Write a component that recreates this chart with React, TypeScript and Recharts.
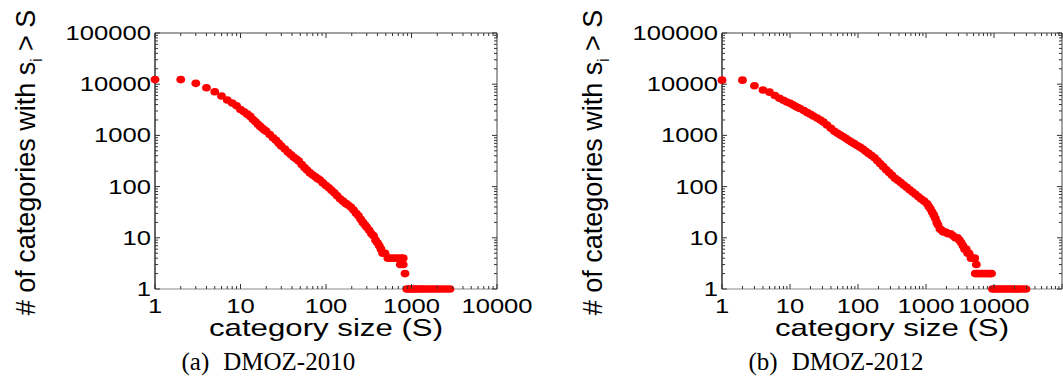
import React from 'react';
import { ScatterChart, Scatter, XAxis, YAxis, Label } from 'recharts';

const FONT = '"Liberation Sans", Arial, Helvetica, sans-serif';
const SERIF = '"Liberation Serif", "Times New Roman", serif';

// ---- DMOZ-2010: category size S and number of categories with s_i > S ----
const sizes2010 = [
  1, 2, 3, 4, 5, 6, 7, 8, 9, 10,
  11, 12, 13, 14, 15, 16, 17, 18, 19, 20,
  22, 24, 26, 28, 30, 33, 36, 39, 42, 45,
  48, 52, 56, 60, 65, 70, 75, 80, 85, 92,
  100, 108, 116, 125, 135, 146, 158, 170, 180, 195,
  210, 225, 240, 255, 270, 285, 300, 320, 340, 360,
  380, 400, 420, 440, 460, 490, 530, 570, 610, 660,
  710, 760, 800, 740, 800, 840, 880, 930, 980, 1040,
  1100, 1170, 1250, 1340, 1440, 1550, 1680, 1820, 1980, 2150,
  2350, 2580, 2820,
];
const counts2010 = [
  12300, 12300, 10400, 8500, 7100, 5900, 4900, 4300, 3800, 3200,
  2900, 2600, 2350, 2050, 1850, 1650, 1500, 1380, 1280, 1200,
  1040, 900, 800, 700, 620, 540, 470, 420, 375, 345,
  315, 270, 235, 210, 185, 168, 155, 143, 135, 118,
  105, 95, 85, 76, 66, 58, 52, 47, 44, 40,
  35, 30, 27, 23, 20, 18, 16, 14, 12, 11,
  9, 8, 7, 6, 5, 5, 4, 4, 4, 4,
  4, 4, 4, 3, 3, 2, 1, 1, 1, 1,
  1, 1, 1, 1, 1, 1, 1, 1, 1, 1,
  1, 1, 1,
];

// ---- DMOZ-2012 ----
const sizes2012 = [
  1, 2, 3, 4, 5, 6, 7, 8, 9, 10,
  11, 12, 13, 14, 16, 18, 20, 22, 25, 28,
  31, 35, 40, 45, 50, 55, 60, 66, 73, 80,
  88, 97, 107, 118, 130, 143, 158, 175, 193, 213,
  235, 260, 287, 316, 350, 385, 425, 470, 520, 575,
  635, 700, 775, 850, 940, 1040, 1100, 1160, 1230, 1300,
  1370, 1440, 1500, 1600, 1700, 1800, 1950, 2100, 2300, 2500,
  2700, 2900, 3100, 3300, 3500, 3700, 3900, 4100, 4300, 4600,
  4900, 5200, 5500, 5300, 5700, 6100, 6600, 7100, 7600, 8200,
  8700, 9200, 9500, 10200, 11000, 12000, 13000, 14200, 15500, 17000,
  18500, 20000, 22000, 24000, 26500, 29500,
];
const counts2012 = [
  12000, 12000, 9300, 7700, 7000, 6000, 5300, 4850, 4500, 4250,
  3950, 3700, 3500, 3350, 3050, 2780, 2580, 2400, 2180, 2000,
  1820, 1600, 1380, 1200, 1100, 1020, 950, 875, 800, 745,
  690, 637, 589, 540, 490, 445, 403, 364, 320, 280,
  245, 214, 188, 166, 146, 133, 120, 107, 97, 87,
  78, 71, 63, 57, 52, 46, 41, 37, 32, 28,
  24, 20, 18, 15, 14, 13, 13, 12, 12, 11,
  10, 10, 9, 8, 7, 6, 6, 5, 5, 4,
  4, 4, 3, 2, 2, 2, 2, 2, 2, 2,
  2, 2, 1, 1, 1, 1, 1, 1, 1, 1,
  1, 1, 1, 1, 1, 1,
];

// ---- tick labels / texts ----
const yTickLabels = [1, 10, 100, 1000, 10000, 100000];
const xTickLabels2010 = [1, 10, 100, 1000, 10000];
const xTickLabels2012 = [1, 10, 100, 1000, 10000];
const xTitle = 'category size (S)';
const yTitleHead = '# of categories with s';
const yTitleSub = 'i';
const yTitleTail = ' > S';
const captionTags = ['(a)', '(b)'];
const captionNames = ['DMOZ-2010', 'DMOZ-2012'];

function logTicks(maxExp: number): number[] {
  const t: number[] = [];
  for (let k = 0; k < maxExp; k++) for (let m = 1; m < 10; m++) t.push(m * Math.pow(10, k));
  t.push(Math.pow(10, maxExp));
  return t;
}
const isPow10 = (v: number) => /^10*$/.test(String(v));
const TICK_COLOR = '#333';

const bottomTick = (labels: number[]) => (p: any) => {
  const v = p.payload.value;
  return (
    <g>
      <line x1={p.x} x2={p.x} y1={p.y} y2={p.y - (isPow10(v) ? 5 : 3)} stroke={TICK_COLOR} strokeWidth={1} />
      {labels.includes(v) && (
        <text transform={`translate(${p.x},${p.y + 24}) scale(1.28,1)`} textAnchor="middle"
          fontFamily={FONT} fontSize={20} fill="#000">{v}</text>
      )}
    </g>
  );
};
const topTick = (p: any) => {
  const v = p.payload.value;
  return <line x1={p.x} x2={p.x} y1={p.y} y2={p.y + (isPow10(v) ? 5 : 3)} stroke={TICK_COLOR} strokeWidth={1} />;
};
const leftTick = (labels: number[]) => (p: any) => {
  const v = p.payload.value;
  return (
    <g>
      <line x1={p.x} x2={p.x + (isPow10(v) ? 5 : 3)} y1={p.y} y2={p.y} stroke={TICK_COLOR} strokeWidth={1} />
      {labels.includes(v) && (
        <text transform={`translate(${p.x - 4},${p.y + 7}) scale(1.28,1)`} textAnchor="end"
          fontFamily={FONT} fontSize={20} fill="#000">{v}</text>
      )}
    </g>
  );
};
const rightTick = (p: any) => {
  const v = p.payload.value;
  return <line x1={p.x} x2={p.x - (isPow10(v) ? 5 : 3)} y1={p.y} y2={p.y} stroke={TICK_COLOR} strokeWidth={1} />;
};

const dotShape = (p: any) => <ellipse cx={p.cx} cy={p.cy} rx={4.4} ry={3.8} fill="#ff0000" />;
const noShape = () => <g />;

type PanelProps = {
  sizes: number[];
  counts: number[];
  xMaxExp: number;
  xLabels: number[];
  left: number;
  width: number;
  marginLeft: number;
  marginRight: number;
  idx: number;
};

function Panel({ sizes, counts, xMaxExp, xLabels, left, width, marginLeft, marginRight, idx }: PanelProps) {
  const data = sizes.map((s, i) => ({ s, n: counts[i] }));
  const xTicks = logTicks(xMaxExp);
  const yTicks = logTicks(5);
  const xDomain = [1, Math.pow(10, xMaxExp)];
  const yDomain = [1, 100000];

  const renderXTitle = (props: any) => {
    const vb = props.viewBox;
    const cx = vb.x + vb.width / 2;
    const by = vb.y;
    return (
      <g>
        <text transform={`translate(${cx},${by + 47}) scale(1.3,1)`} textAnchor="middle"
          fontFamily={FONT} fontSize={24} fill="#000">{xTitle}</text>
        <text transform={`translate(${vb.x + 26.5},${by + 81})`} textAnchor="start"
          fontFamily={SERIF} fontSize={25} fill="#000">
          {captionTags[idx]}
          <tspan dx={14}>{captionNames[idx]}</tspan>
        </text>
      </g>
    );
  };
  const renderYTitle = (props: any) => {
    const vb = props.viewBox;
    const ax = vb.x + vb.width;
    return (
      <text transform={`translate(${ax - 120},162.5) rotate(-90) scale(1,1.05)`} textAnchor="middle"
        fontFamily={FONT} fontSize={27} fill="#000">
        {yTitleHead}
        <tspan dy={7} fontSize={15}>{yTitleSub}</tspan>
        <tspan dy={-7}>{yTitleTail}</tspan>
      </text>
    );
  };

  return (
    <div style={{ position: 'absolute', left, top: 0 }}>
      <ScatterChart width={width} height={379}
        margin={{ top: 32, right: marginRight - 1, bottom: 89, left: marginLeft - 1 }}>
        <XAxis xAxisId="top" orientation="top" dataKey="s" type="number" scale="log"
          domain={xDomain} ticks={xTicks} interval={0} tickSize={0} tickMargin={0} height={1}
          axisLine={{ stroke: '#444', strokeWidth: 1 }} tickLine={false} tick={topTick} />
        <YAxis yAxisId="right" orientation="right" dataKey="n" type="number" scale="log"
          domain={yDomain} ticks={yTicks} interval={0} tickSize={0} tickMargin={0} width={1}
          axisLine={{ stroke: '#444', strokeWidth: 1 }} tickLine={false} tick={rightTick} />
        <XAxis xAxisId="main" orientation="bottom" dataKey="s" type="number" scale="log"
          domain={xDomain} ticks={xTicks} interval={0} tickSize={0} tickMargin={0} height={1}
          axisLine={{ stroke: '#8a8a8a', strokeWidth: 1.2 }} tickLine={false} tick={bottomTick(xLabels)}>
          <Label content={renderXTitle} />
        </XAxis>
        <YAxis yAxisId="main" orientation="left" dataKey="n" type="number" scale="log"
          domain={yDomain} ticks={yTicks} interval={0} tickSize={0} tickMargin={0} width={1}
          axisLine={{ stroke: '#000', strokeWidth: 1.2 }} tickLine={false} tick={leftTick(yTickLabels)}>
          <Label content={renderYTitle} />
        </YAxis>
        <Scatter xAxisId="top" yAxisId="right" data={data} shape={noShape} isAnimationActive={false} />
        <Scatter xAxisId="main" yAxisId="main" data={data} shape={dotShape} isAnimationActive={false} />
      </ScatterChart>
    </div>
  );
}

export default function App() {
  return (
    <div style={{ position: 'absolute', left: 0, top: 0, width: 1063, height: 379, background: '#fff', overflow: 'hidden' }}>
      <Panel sizes={sizes2010} counts={counts2010} xMaxExp={4} xLabels={xTickLabels2010}
        left={0} width={540} marginLeft={155} marginRight={43} idx={0} />
      <Panel sizes={sizes2012} counts={counts2012} xMaxExp={5} xLabels={xTickLabels2012}
        left={540} width={523} marginLeft={182} marginRight={1} idx={1} />
    </div>
  );
}
